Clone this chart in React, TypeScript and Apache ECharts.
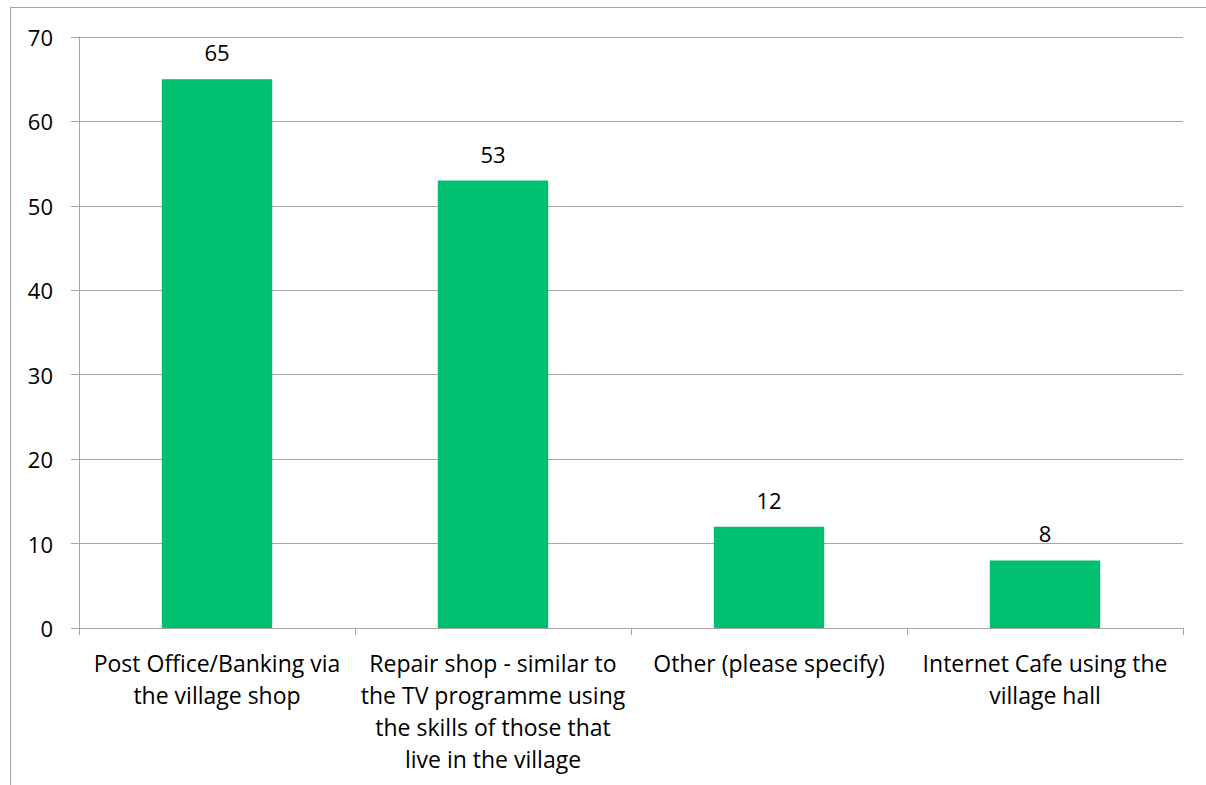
import React, { useEffect, useRef } from "react";
import * as echarts from "echarts";

const categories = [
  "Post Office/Banking via\nthe village shop",
  "Repair shop - similar to\nthe TV programme using\nthe skills of those that\nlive in the village",
  "Other (please specify)",
  "Internet Cafe using the\nvillage hall",
];
const values = [65, 53, 12, 8];
const yTicks = { min: 0, max: 70, interval: 10 };

const FONT = "'Open Sans', sans-serif";

export default function App() {
  const ref = useRef<HTMLDivElement>(null);
  useEffect(() => {
    if (!ref.current) return;
    const chart = echarts.init(ref.current, null, { renderer: "svg" });
    chart.setOption({
      animation: false,
      textStyle: { fontFamily: FONT },
      grid: { left: 79, right: 23, top: 37, bottom: 157, containLabel: false },
      graphic: [
        { type: "line", shape: { x1: 10, y1: 7.5, x2: 1206, y2: 7.5 }, style: { stroke: "#a6a6a6", lineWidth: 1 } },
        { type: "line", shape: { x1: 10.5, y1: 7, x2: 10.5, y2: 785 }, style: { stroke: "#a6a6a6", lineWidth: 1 } },
      ],
      xAxis: {
        type: "category",
        data: categories,
        axisLine: { lineStyle: { color: "#a6a6a6", width: 1 } },
        axisTick: { show: true, length: 7, lineStyle: { color: "#a6a6a6" } },
        axisLabel: {
          color: "#000",
          fontSize: 23,
          fontFamily: FONT,
          lineHeight: 32,
          margin: 19,
          interval: 0,
          align: "center",
        },
      },
      yAxis: {
        type: "value",
        min: yTicks.min,
        max: yTicks.max,
        interval: yTicks.interval,
        axisLine: { show: true, lineStyle: { color: "#a6a6a6", width: 1 } },
        axisTick: { show: true, length: 8, lineStyle: { color: "#a6a6a6" } },
        splitLine: { show: true, lineStyle: { color: "#a6a6a6", width: 1 } },
        axisLabel: { color: "#000", fontSize: 22, fontFamily: FONT, margin: 26 },
      },
      series: [
        {
          type: "bar",
          data: values,
          barWidth: "40%",
          itemStyle: { color: "#00BF6F" },
          label: {
            show: true,
            position: "top",
            distance: 16,
            color: "#000",
            fontSize: 22,
            fontFamily: FONT,
          },
        },
      ],
    });
    return () => chart.dispose();
  }, []);
  return <div ref={ref} style={{ width: 1206, height: 785, position: "absolute", left: 0, top: 0 }} />;
}
